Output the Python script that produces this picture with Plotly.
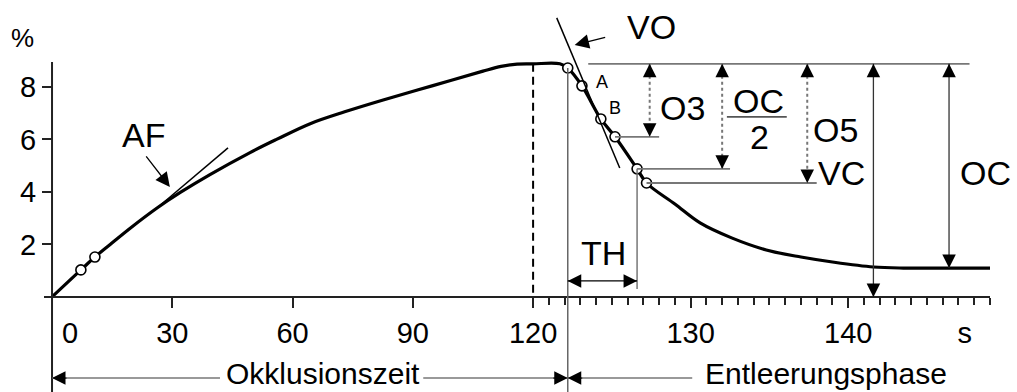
import plotly.graph_objects as go

# ---------------- data (time in s, value in %) ----------------
curve_t = [0, 7.2, 10.7, 14.5, 19.5, 26.2, 32.0, 39.4, 49.4, 56.0, 64.4, 73.0, 82.6, 95.0,
           107.5, 112.0, 116.0, 120.0, 121.7, 122.2, 123.1, 124.3, 125.2, 126.6, 127.2,
           129.0, 130.6, 132.6, 134.8, 137.0, 139.0, 141.6, 143.5, 145.4, 149.0]
curve_y = [0, 1.03, 1.52, 2.00, 2.62, 3.39, 3.98, 4.66, 5.50, 6.00, 6.60, 7.05, 7.50, 8.05,
           8.60, 8.78, 8.87, 8.88, 8.88, 8.72, 8.04, 6.78, 6.10, 4.88, 4.34,
           3.54, 2.82, 2.25, 1.79, 1.52, 1.33, 1.14, 1.10, 1.10, 1.10]

marker_t = [7.2, 10.7, 122.2, 123.1, 124.3, 125.2, 126.6, 127.2]
marker_y = [1.03, 1.52, 8.72, 8.04, 6.78, 6.10, 4.88, 4.34]

x_ticks = [30, 60, 90, 120, 130, 140]
x_minor = [v for v in range(121, 150) if v not in (130, 140)]
y_ticks = [2, 4, 6, 8]

peak_level = 8.88
final_level = 1.10
t_occl_end = 122.2          # end of occlusion / start of emptying
t_th_end = 126.6            # end of TH interval
th_level = 0.61

meas_names = ["O3", "OC/2", "O5", "VC", "OC"]
meas_t = [127.4, 132.0, 137.4, 141.6, 146.4]
meas_low = [6.10, 4.88, 4.34, 0.0, final_level]
meas_dotted = [True, True, True, False, False]
level_start = [125.2, 126.6, 127.2]
level_end = [128.0, 132.5, 138.0]

af_tangent_t = [26.2, 43.9]
af_tangent_y = [3.39, 5.68]
vo_tangent_t = [121.5, 125.5]
vo_tangent_y = [10.63, 4.91]

# ---------------- broken time scale ----------------
BREAK = 120.0
STRETCH = 3.93


def u(t):
    return t if t <= BREAK else BREAK + (t - BREAK) * STRETCH


W, H = 1017, 392
FONT = "Liberation Sans, Arial, Helvetica, sans-serif"
Y_MIN, Y_MAX = -3.62, 11.31
X_MIN, X_MAX = -2.0, u(149.0)

fig = go.Figure()
shapes = []
ann = []


def seg(t0, y0, t1, y1, color="black", width=1.5, dash="solid"):
    shapes.append(dict(type="line", xref="x", yref="y", x0=u(t0), y0=y0, x1=u(t1), y1=y1,
                       line=dict(color=color, width=width, dash=dash)))


def head(t, y, dx, dy, L=14):
    ann.append(dict(x=u(t), y=y, xref="x", yref="y", ax=dx * L, ay=dy * L, text="",
                    showarrow=True, arrowhead=2, arrowsize=2.7, arrowwidth=1,
                    arrowcolor="black"))


def label(t, y, text, size=34, xref="x", yref="y", yanchor="middle"):
    ann.append(dict(x=(u(t) if xref == "x" else t), y=y, xref=xref, yref=yref, text=text,
                    showarrow=False, font=dict(size=size, color="black", family=FONT),
                    xanchor="center", yanchor=yanchor))


# y axis line
seg(0, Y_MIN, 0, 8.95, color="#222", width=2)

# dashed line at 120 s
seg(120, peak_level, 120, 0, color="black", width=2, dash="8px,5px")
# vertical boundary line
seg(t_occl_end, marker_y[2], t_occl_end, Y_MIN, color="#666", width=1.5)
# TH end vertical
seg(t_th_end, marker_y[6], t_th_end, 0.3, color="#777", width=1.5)

# tangents
seg(af_tangent_t[0], af_tangent_y[0], af_tangent_t[1], af_tangent_y[1], width=1.5)
seg(vo_tangent_t[0], vo_tangent_y[0], vo_tangent_t[1], vo_tangent_y[1], width=1.5)

# top reference line and level lines
seg(123.5, peak_level, 147.7, peak_level, color="#777", width=1.8)
for s, e, lv in zip(level_start, level_end, meas_low[:3]):
    seg(s, lv, e, lv, color="#777", width=1.8)

# measurement arrows
for t, low, dotted in zip(meas_t, meas_low, meas_dotted):
    if dotted:
        seg(t, peak_level, t, low, color="#777", width=2, dash="dot")
    else:
        seg(t, peak_level, t, low, color="#333", width=1.3)
    head(t, peak_level, 0, 1)
    head(t, low, 0, -1)

# TH double arrow
seg(t_occl_end, th_level, t_th_end, th_level, color="black", width=1.3)
head(t_occl_end, th_level, 1, 0)
head(t_th_end, th_level, -1, 0)

# phase arrows
phase_y = -3.09
seg(0, phase_y, 41.9, phase_y, color="#777", width=1.5)
seg(92.6, phase_y, t_occl_end, phase_y, color="#777", width=1.5)
seg(t_occl_end, phase_y, 130.1, phase_y, color="#777", width=1.5)
head(0, phase_y, 1, 0, L=16)
head(t_occl_end, phase_y, -1, 0, L=16)
head(t_occl_end, phase_y, 1, 0, L=16)

# AF and VO pointer arrows
for (tt, ty, hx, hy) in [(23.2, 5.41, 29.4, 4.19), (124.67, 9.90, 122.64, 9.60)]:
    ann.append(dict(x=u(hx), y=hy, xref="x", yref="y", ax=u(tt), ay=ty, axref="x", ayref="y",
                    text="", showarrow=True, arrowhead=2, arrowsize=2.2, arrowwidth=1.3,
                    arrowcolor="black"))

# fraction bar of OC/2
seg(132.3, 6.86, 136.1, 6.86, color="#555", width=1.8)

# text labels
label(22 / W, 9.87, "%", size=26, xref="paper")
label(22.7, 6.17, "AF")
label(127.5, 10.28, "VO")
label(124.35, 8.19, "A", size=18)
label(125.2, 7.2, "B", size=18)
label(129.5, 7.2, "O3")
label(134.3, 7.45, "OC")
label(134.4, 6.1, "2")
label(139.2, 6.36, "O5")
label(139.6, 4.72, "VC")
label(148.7, 4.72, "OC")
label(124.5, 1.68, "TH")
label(67.6, 0, "Okklusionszeit", size=30, yref="paper", yanchor="bottom")
label(138.6, 0, "Entleerungsphase", size=30, yref="paper", yanchor="bottom")

# curve and markers
fig.add_trace(go.Scatter(x=[u(t) for t in curve_t], y=curve_y, mode="lines",
                         line=dict(color="black", width=3.2, shape="spline", smoothing=1.0),
                         hoverinfo="skip"))
fig.add_trace(go.Scatter(x=[u(t) for t in marker_t], y=marker_y, mode="markers",
                         marker=dict(size=10, color="white", line=dict(color="black", width=1.6)),
                         hoverinfo="skip"))
# invisible trace for the label-only overlay axis
fig.add_trace(go.Scatter(x=[u(0)], y=[0], xaxis="x2", mode="markers",
                         marker=dict(opacity=0), hoverinfo="skip"))

dom = [44 / W, 990 / W]
xpos = (H - 297) / H
fig.update_layout(
    width=W, height=H, margin=dict(l=0, r=0, t=0, b=0),
    plot_bgcolor="white", paper_bgcolor="white", showlegend=False,
    font=dict(family=FONT, color="black"),
    xaxis=dict(domain=dom, range=[X_MIN, X_MAX], anchor="free", position=xpos,
               showline=True, linecolor="#222", linewidth=2,
               ticks="outside", ticklen=10, tickwidth=2, tickcolor="#222",
               tickvals=[u(v) for v in x_ticks], ticktext=[str(v) for v in x_ticks],
               tickfont=dict(size=29, family=FONT, color="black"),
               showgrid=False, zeroline=False,
               minor=dict(tickmode="array", tickvals=[u(v) for v in x_minor], ticks="outside",
                          ticklen=7, tickwidth=1.5, tickcolor="#222", showgrid=False)),
    xaxis2=dict(domain=dom, range=[X_MIN, X_MAX], overlaying="x", anchor="free", position=xpos,
                showline=False, ticks="outside", ticklen=10, tickcolor="rgba(0,0,0,0)",
                tickvals=[u(4.5), u(147.4)], ticktext=["0", "s"],
                tickfont=dict(size=29, family=FONT, color="black"),
                showgrid=False, zeroline=False),
    yaxis=dict(domain=[0, 1], range=[Y_MIN, Y_MAX], anchor="free", position=52 / W,
               showline=False, ticks="outside", ticklen=10, tickwidth=2, tickcolor="#222",
               tickvals=y_ticks, ticktext=[str(v) for v in y_ticks],
               tickfont=dict(size=29, family=FONT, color="black"),
               showgrid=False, zeroline=False),
    shapes=shapes, annotations=ann,
)

fig.write_html("out.html")
